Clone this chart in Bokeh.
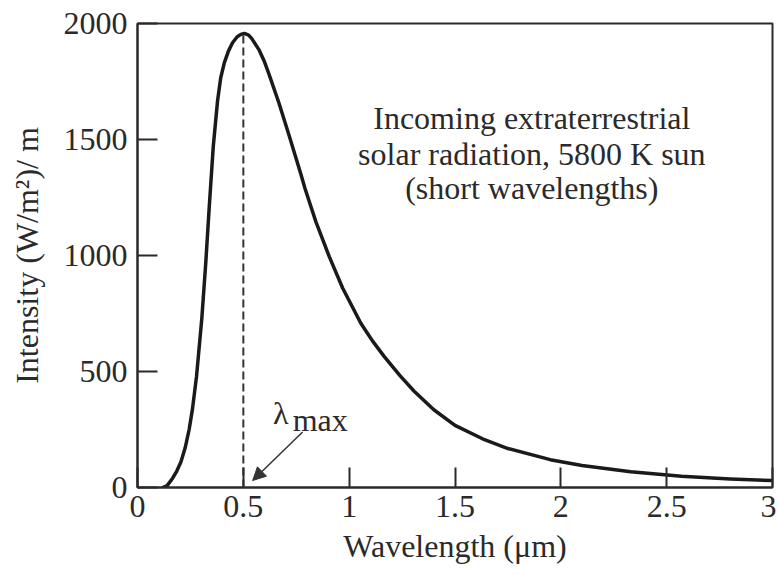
from bokeh.plotting import figure
from bokeh.models import Range1d, FixedTicker, Arrow, NormalHead
from bokeh.core.properties import value
from bokeh.embed import file_html
from bokeh.resources import INLINE

# ---- data ----
wavelength = [0.12, 0.14, 0.166, 0.185, 0.205, 0.225, 0.244, 0.26, 0.279, 0.304,
              0.323, 0.339, 0.358, 0.378, 0.393, 0.41, 0.43, 0.449, 0.47, 0.488,
              0.505, 0.525, 0.54, 0.575, 0.60, 0.622, 0.669, 0.717, 0.772, 0.791,
              0.843, 0.906, 0.969, 1.055, 1.11, 1.165, 1.24, 1.307, 1.40, 1.50,
              1.63, 1.75, 1.95, 2.10, 2.33, 2.57, 2.80, 3.0]
intensity = [0, 8, 40, 70, 110, 170, 250, 340, 480, 730,
             975, 1210, 1470, 1665, 1765, 1830, 1882, 1917, 1942, 1953,
             1957, 1950, 1935, 1885, 1835, 1780, 1655, 1515, 1350, 1290,
             1145, 995, 860, 708, 632, 565, 482, 415, 335, 268,
             210, 168, 120, 95, 68, 48, 37, 30]

lambda_max = 0.5
peak_intensity = 1957

x_ticks = [0, 0.5, 1, 1.5, 2, 2.5, 3]
x_tick_labels = ["0", "0.5", "1", "1.5", "2", "2.5", "3"]
y_ticks = [0, 500, 1000, 1500, 2000]
y_tick_labels = ["0", "500", "1000", "1500", "2000"]

note_lines = ["Incoming extraterrestrial", "solar radiation, 5800 K sun", "(short wavelengths)"]
note_x = 1.863
note_y = [1593, 1438, 1290]

FONT = "Liberation Serif"
INK = "#2a2a2a"
FS = "32px"

p = figure(width=776, height=573, output_backend="svg", toolbar_location=None,
           x_range=Range1d(0, 3), y_range=Range1d(0, 2000),
           min_border_left=137, min_border_right=4, min_border_top=23,
           min_border_bottom=86)
p.grid.visible = False
p.outline_line_color = INK
p.outline_line_width = 2
p.background_fill_color = "white"
p.border_fill_color = "white"

p.xaxis.ticker = FixedTicker(ticks=x_ticks)
p.xaxis.major_label_overrides = {t: l for t, l in zip(x_ticks, x_tick_labels)}
p.yaxis.ticker = FixedTicker(ticks=y_ticks)
p.yaxis.major_label_overrides = {t: l for t, l in zip(y_ticks, y_tick_labels)}

for ax in (p.xaxis, p.yaxis):
    ax.major_tick_in = 20
    ax.major_tick_out = 0
    ax.minor_tick_line_color = None
    ax.major_tick_line_width = 2
    ax.major_tick_line_color = INK
    ax.axis_line_color = INK
    ax.axis_line_width = 2
    ax.major_label_text_font = FONT
    ax.major_label_text_font_size = FS
    ax.major_label_text_color = INK
    ax.axis_label_text_font = FONT
    ax.axis_label_text_font_size = FS
    ax.axis_label_text_font_style = "normal"
    ax.axis_label_text_color = INK

p.xaxis.axis_label = "Wavelength (μm)"
p.yaxis.axis_label = "Intensity (W/m²)/ m"
p.xaxis.major_label_standoff = 8
p.xaxis.axis_label_standoff = 8
p.yaxis.major_label_standoff = 10
p.yaxis.axis_label_standoff = 16

# dashed line at lambda max
p.line([lambda_max, lambda_max], [0, peak_intensity], line_dash="8 4",
       line_width=2, line_color="#333333")

# curve
p.line(wavelength, intensity, line_width=3.5, line_color="#1a1a1a",
       line_join="round", line_cap="round")

# annotation text
p.text(x=[note_x] * len(note_lines), y=note_y, text=note_lines,
       text_font=value(FONT), text_font_size=FS, text_color=INK,
       text_align="center", text_baseline="alphabetic")

p.text(x=[0.640], y=[320], text=["λ"], text_font=value(FONT),
       text_font_size=FS, text_color=INK, text_align="left",
       text_baseline="alphabetic")
p.text(x=[0.733], y=[292], text=["max"], text_font=value(FONT),
       text_font_size=FS, text_color=INK, text_align="left",
       text_baseline="alphabetic")

p.add_layout(Arrow(end=NormalHead(size=13, line_color="#333333",
                                  fill_color="#333333", line_width=1),
                   x_start=0.780, y_start=239, x_end=0.544, y_end=30,
                   line_width=1.5, line_color="#333333"))

open("out.html", "w").write(file_html(p, INLINE))
